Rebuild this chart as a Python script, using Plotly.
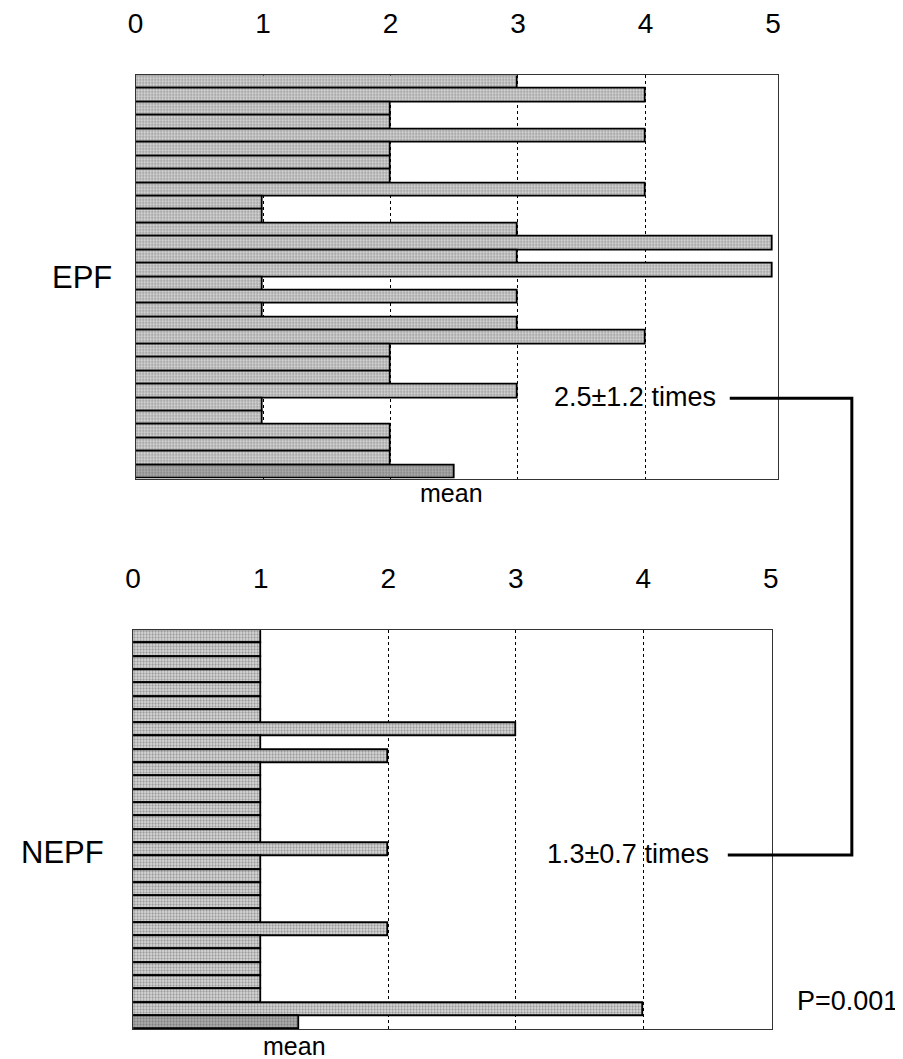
import plotly.graph_objects as go

W, H = 903, 1059
OFF = 8  # default page body margin

# Data
epf_values = [3, 4, 2, 2, 4, 2, 2, 2, 4, 1, 1, 3, 5, 3, 5, 1, 3, 1, 3, 4, 2, 2, 2, 3, 1, 1, 2, 2, 2]
epf_mean = 2.5
nepf_values = [1, 1, 1, 1, 1, 1, 1, 3, 1, 2, 1, 1, 1, 1, 1, 1, 2, 1, 1, 1, 1, 1, 2, 1, 1, 1, 1, 1, 4]
nepf_mean = 1.3
tick_vals = [0, 1, 2, 3, 4, 5]
tick_text = ["0", "1", "2", "3", "4", "5"]
grid_vals = [1, 2, 3, 4]
group_labels = ["EPF", "NEPF"]
stat_labels = ["2.5±1.2 times", "1.3±0.7 times"]
p_label = "P=0.001"

FONT = "Liberation Sans, Arial, Helvetica, sans-serif"
LIGHT_BG, LIGHT_FG = "#e0e0e0", "#acacac"
DARK_BG, DARK_FG = "#b4b4b4", "#808080"

def px_x(x):
    return (x - OFF) / W

def px_y(y):
    return 1 - (y - OFF) / H

fig = go.Figure()

def add_panel(values, mean, xa, ya):
    vals = values + [mean]
    ys = list(range(len(vals)))
    bg = [LIGHT_BG] * len(values) + [DARK_BG]
    fg = [LIGHT_FG] * len(values) + [DARK_FG]
    fig.add_trace(go.Bar(
        x=vals, y=ys, orientation="h", xaxis=xa, yaxis=ya,
        marker=dict(color=bg, line=dict(color="black", width=1.8),
                    pattern=dict(shape=".", fgcolor=fg, size=3, solidity=0.45)),
        showlegend=False, hoverinfo="x",
    ))

add_panel(epf_values, epf_mean, "x", "y")
add_panel(nepf_values, nepf_mean, "x2", "y2")

axis_common = dict(
    side="top", tickvals=tick_vals, ticktext=tick_text,
    tickfont=dict(family=FONT, size=28, color="black"),
    showgrid=False,
    minor=dict(tickvals=grid_vals, showgrid=True, gridcolor="black", gridwidth=1,
               griddash="3px,3px", ticks=""),
    showline=True, mirror=True, linecolor="#333333", linewidth=1,
    ticks="", zeroline=False, ticklabelstandoff=30,
)
yaxis_common = dict(
    showticklabels=False, showgrid=False, zeroline=False,
    showline=True, mirror=True, linecolor="#333333", linewidth=1, ticks="",
)

n = len(epf_values) + 1
fig.update_layout(
    width=W, height=H,
    margin=dict(l=0, r=0, t=0, b=0),
    paper_bgcolor="white", plot_bgcolor="white",
    bargap=0,
    xaxis=dict(domain=[px_x(129.5), px_x(782)], range=[0, 5.04], anchor="y", **axis_common),
    yaxis=dict(domain=[px_y(473), px_y(66)], range=[n - 0.5, -0.5], anchor="x", **yaxis_common),
    xaxis2=dict(domain=[px_x(127), px_x(776)], range=[0, 5.01], anchor="y2", **axis_common),
    yaxis2=dict(domain=[px_y(1029), px_y(626)], range=[n - 0.5, -0.5], anchor="x2", **yaxis_common),
)

def ann(text, x, y, size, xanchor="center"):
    fig.add_annotation(text=text, x=px_x(x), y=px_y(y), xref="paper", yref="paper",
                       showarrow=False, xanchor=xanchor, yanchor="middle",
                       font=dict(family=FONT, size=size, color="black"))

ann(group_labels[0], 75, 270, 31)
ann(group_labels[1], 55, 850, 31)
ann("mean", 450, 488, 25)
ann("mean", 291, 1046, 25)
ann(stat_labels[0], 721, 391, 27, xanchor="right")
ann(stat_labels[1], 714, 852, 27, xanchor="right")
ann(p_label, 799, 1000, 27, xanchor="left")

# bracket connecting the two means
pts = [(733, 392), (857, 392), (857, 853), (731, 853)]
path = "M " + " L ".join(f"{px_x(x)},{px_y(y)}" for x, y in pts)
fig.add_shape(type="path", path=path, xref="paper", yref="paper",
              line=dict(color="black", width=3))

fig.write_html("out.html")
